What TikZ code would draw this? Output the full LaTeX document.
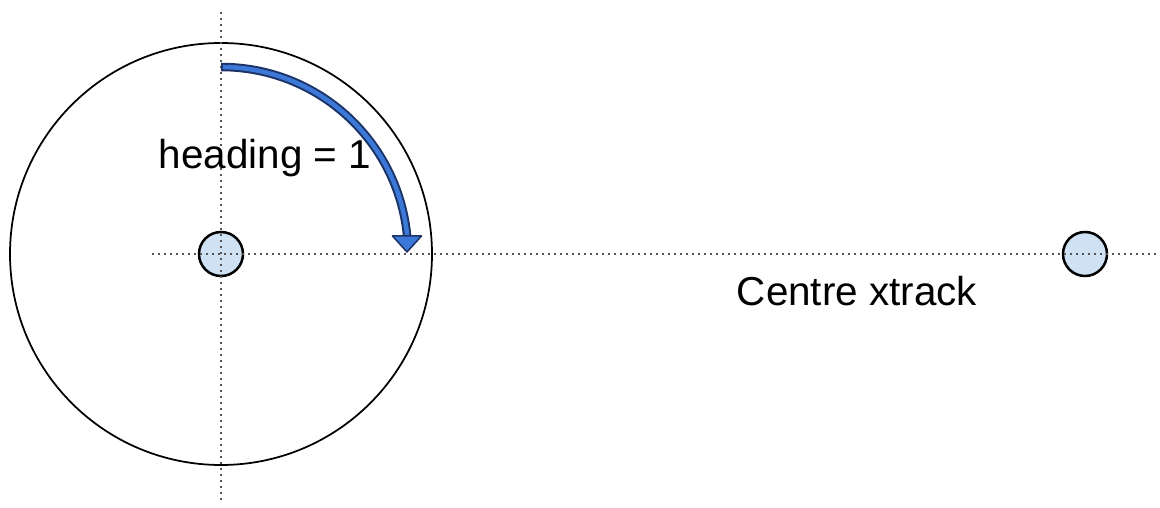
\documentclass[tikz,border=0pt]{standalone}
\usepackage{fontspec}
\setmainfont{Liberation Sans}
\usetikzlibrary{positioning}
\definecolor{dotgray}{HTML}{555555}
\definecolor{dotfill}{HTML}{CFE2F3}
\definecolor{headblue}{HTML}{3C78D8}
\definecolor{headedge}{HTML}{1C3366}
\tikzset{
  axisline/.style={dotgray, line width=0.03cm, dash pattern=on 0.04cm off 0.08cm},
  centredot/.style={circle, draw=black, line width=0.05cm, fill=dotfill, minimum size=0.88cm, inner sep=0pt},
  bigtext/.style={font=\fontsize{23}{28}\selectfont}
}
\begin{document}
\begin{tikzpicture}
    \useasboundingbox (0,0) rectangle (23.2,10.16);
    % outer circle around the vehicle
    \node[circle, draw=black, line width=0.035cm, minimum size=8.44cm, inner sep=0pt] (ring) at (4.42,5.08) {};
    \node[centredot] (car) at (4.42,5.08) {};
    \node[centredot] (track) at (21.7,5.08) {};
    % dotted axes
    \coordinate (vtop) at (4.42,9.92);
    \coordinate (vbot) at (4.42,0.16);
    \coordinate (hleft) at (3.04,5.08);
    \coordinate (hright) at (23.2,5.08);
    \draw[axisline] (vtop) -- (vbot);
    \draw[axisline] (hleft) -- (hright);
    % heading arrow
    \coordinate (hstart) at (4.42,8.82);
    \draw[headedge, line width=0.17cm] (hstart) arc[start angle=90, end angle=5.5, radius=3.74cm];
    \draw[headblue, line width=0.09cm] ([xshift=0.04cm]hstart) arc[start angle=89.4, end angle=5.5, radius=3.74cm];
    \coordinate (tipbase) at (8.14,5.44);
    \filldraw[fill=headblue, draw=headedge, line width=0.03cm, line join=round]
        ([xshift=-0.29cm]tipbase) -- ([xshift=0.29cm]tipbase) -- (8.14,5.12) -- cycle;
    % labels
    \node[bigtext] (heading) at (5.30,7.00) {heading = 1};
    \node[bigtext] (xtrack) at (17.14,4.34) {Centre xtrack};
\end{tikzpicture}
\end{document}
